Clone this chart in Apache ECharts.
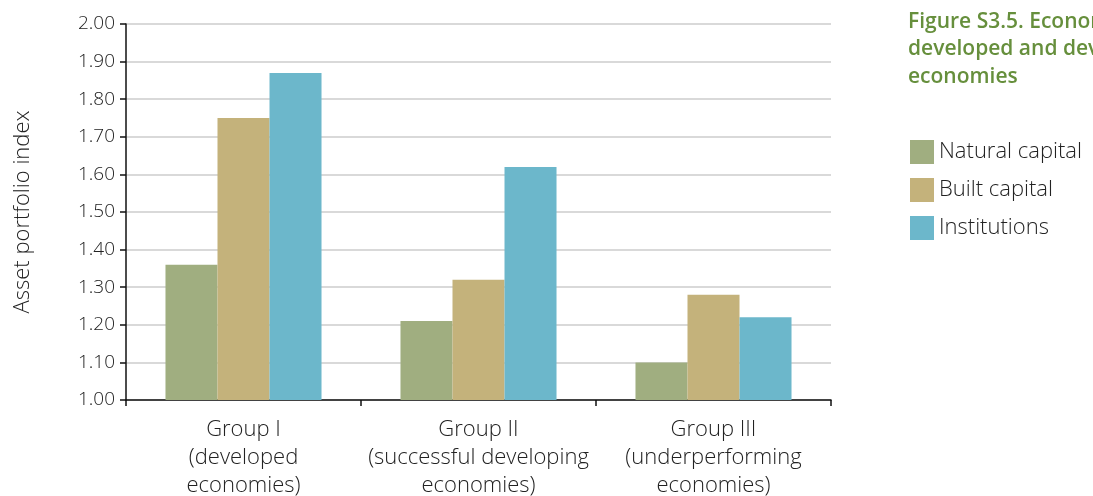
<!DOCTYPE html>
<html>
<head>
<meta charset="utf-8">
<script src="https://cdn.jsdelivr.net/npm/echarts@6/dist/echarts.min.js"></script>
<style>
html,body{margin:0;padding:0;background:#fff;}
#chart{width:1093px;height:496px;}
</style>
</head>
<body>
<div id="chart"></div>
<script>
const categories = ['Group I\n(developed\neconomies)', 'Group II\n(successful developing\neconomies)', 'Group III\n(underperforming\neconomies)'];
const seriesNames = ['Natural capital', 'Built capital', 'Institutions'];
const naturalCapital = [1.36, 1.21, 1.10];
const builtCapital = [1.75, 1.32, 1.28];
const institutions = [1.87, 1.62, 1.22];
const yTicks = ['1.00','1.10','1.20','1.30','1.40','1.50','1.60','1.70','1.80','1.90','2.00'];
const titleText = 'Figure S3.5. Economic asset portfolios of\ndeveloped and developing\neconomies';

const colors = ['#a0ae80', '#c4b27b', '#6cb7cb'];
const FONT = '"Open Sans", "Noto Sans", sans-serif';

const chart = echarts.init(document.getElementById('chart'), null, {renderer: 'canvas'});
const values = [naturalCapital, builtCapital, institutions];

chart.setOption({
  animation: false,
  backgroundColor: '#fff',
  textStyle: {fontFamily: FONT},
  title: {
    text: titleText,
    left: 903,
    top: 3,
    textStyle: {
      color: '#668f3c',
      fontFamily: FONT,
      fontSize: 21,
      fontWeight: 600,
      lineHeight: 27.5
    }
  },
  legend: {
    orient: 'vertical',
    left: 905,
    top: 135,
    itemWidth: 24,
    itemHeight: 24,
    itemGap: 14,
    icon: 'rect',
    data: seriesNames,
    textStyle: {color: '#222', fontSize: 22, fontWeight: 300, fontFamily: FONT}
  },
  grid: {left: 126, right: 1093 - 831, top: 24, bottom: 96, containLabel: false, outerBoundsMode: 'none'},
  xAxis: {
    type: 'category',
    data: categories,
    axisLine: {show: true, lineStyle: {color: '#111', width: 1.5}},
    axisTick: {show: true, length: 6, lineStyle: {color: '#111', width: 1.5}},
    axisLabel: {interval: 0, hideOverlap: false, color: '#222', fontSize: 22, fontWeight: 300, lineHeight: 28, margin: 16, fontFamily: FONT},
    splitLine: {show: false}
  },
  yAxis: {
    type: 'value',
    min: 1.0,
    max: 2.0,
    interval: 0.1,
    name: 'Asset portfolio index',
    nameLocation: 'middle',
    nameGap: 92,
    nameRotate: 90,
    nameTextStyle: {color: '#222', fontSize: 22, fontWeight: 300, fontFamily: FONT},
    axisLine: {show: true, lineStyle: {color: '#111', width: 1.5}},
    axisTick: {show: true, inside: false, length: 6, lineStyle: {color: '#111', width: 1.5}},
    axisLabel: {
      color: '#222', fontSize: 19, fontWeight: 300, margin: 11, fontFamily: FONT,
      formatter: function (v) {
        const idx = Math.round((v - 1.0) / 0.1);
        return yTicks[idx] !== undefined ? yTicks[idx] : v.toFixed(2);
      }
    },
    splitLine: {show: true, lineStyle: {color: '#d9d9d9', width: 2}}
  },
  series: seriesNames.map((name, i) => ({
    name: name,
    type: 'bar',
    data: values[i],
    barGap: '0%',
    barCategoryGap: '33.6%',
    itemStyle: {color: colors[i]},
    emphasis: {disabled: true}
  }))
});
</script>
</body>
</html>
